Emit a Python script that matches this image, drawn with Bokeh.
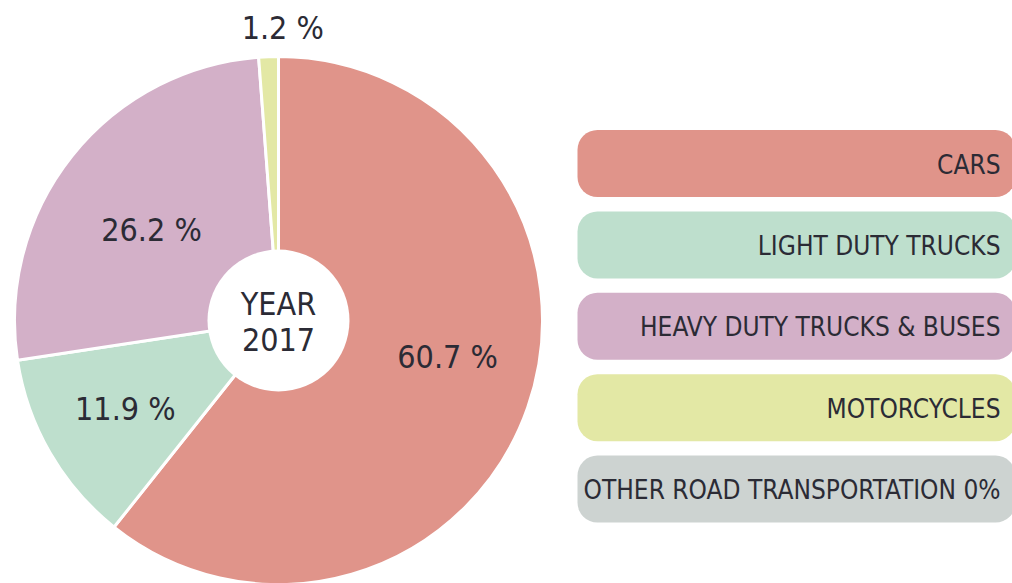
import math
from bokeh.plotting import figure
from bokeh.models import Range1d, ColumnDataSource
from bokeh.core.properties import value
from bokeh.embed import file_html
from bokeh.resources import INLINE

# ---- data ----
categories = ["CARS", "LIGHT DUTY TRUCKS", "HEAVY DUTY TRUCKS & BUSES",
              "MOTORCYCLES", "OTHER ROAD TRANSPORTATION"]
shares = [60.7, 11.9, 26.2, 1.2, 0.0]
share_labels = ["60.7 %", "11.9 %", "26.2 %", "1.2 %", "0%"]
legend_labels = ["CARS", "LIGHT DUTY TRUCKS", "HEAVY DUTY TRUCKS & BUSES",
                 "MOTORCYCLES", "OTHER ROAD TRANSPORTATION 0%"]
center_lines = ["YEAR", "2017"]

# ---- style ----
colors = ["#E0948A", "#BEDFCD", "#D3B0C8", "#E3E8A5", "#CDD3D1"]
text_color = "#2B2B35"
FONT = "DejaVu Sans Condensed"

W, H = 1012, 583


def Y(py):
    return H - py


p = figure(width=W, height=H, x_range=Range1d(0, W), y_range=Range1d(0, H),
           output_backend="svg", toolbar_location=None, min_border=0)
p.axis.visible = False
p.grid.visible = False
p.outline_line_color = None
p.background_fill_color = "white"
p.border_fill_color = "white"

# ---- pie ----
cx, cy, R, r_in = 278, Y(320), 264, 71
total = sum(shares)
starts, ends, fills, mids = [], [], [], []
cum = 0.0
for s, c in zip(shares, colors):
    a0 = math.pi / 2 - 2 * math.pi * cum / total
    cum += s
    a1 = math.pi / 2 - 2 * math.pi * cum / total
    mids.append((a0 + a1) / 2)
    if s > 0:
        starts.append(a0)
        ends.append(a1)
        fills.append(c)

src = ColumnDataSource(dict(x=[cx] * len(starts), y=[cy] * len(starts),
                            start=starts, end=ends, color=fills))
p.wedge(x="x", y="y", radius=R, start_angle="start", end_angle="end",
        direction="clock", fill_color="color", line_color="white",
        line_width=3, source=src)

p.circle(x=[cx], y=[cy], radius=r_in, fill_color="white", line_color=None)

# slice labels (polar placement around slice mid-angle)
label_r = [173, 177, 156, 293]
label_nudge = [7.0, 0.0, 3.0, -3.0]
lx, ly, lt = [], [], []
for i in range(4):
    a = mids[i] + math.radians(label_nudge[i])
    lx.append(cx + label_r[i] * math.cos(a))
    ly.append(cy + label_r[i] * math.sin(a))
    lt.append(share_labels[i])
p.text(x=lx, y=ly, text=lt, text_font=value(FONT), text_font_size="32px",
       text_align="center", text_baseline="middle", text_color=text_color)

# center label
p.text(x=[cx, cx], y=[cy + 17, cy - 19], text=center_lines,
       text_font=value(FONT), text_font_size="32px",
       text_align="center", text_baseline="middle", text_color=text_color)

# ---- legend boxes ----
n = len(legend_labels)
box_top0, step, box_h = 129.5, 81.4, 67
tops = [Y(box_top0 + i * step) for i in range(n)]
bottoms = [t - box_h for t in tops]
p.quad(left=[577] * n, right=[1015] * n, top=tops, bottom=bottoms,
       fill_color=colors, line_color=None, border_radius=20)
p.text(x=[1000] * n, y=[t - box_h / 2 - 1 for t in tops], text=legend_labels,
       text_font=value(FONT), text_font_size="26px", text_align="right",
       text_baseline="middle", text_color=text_color)

open("out.html", "w").write(file_html(p, INLINE))
